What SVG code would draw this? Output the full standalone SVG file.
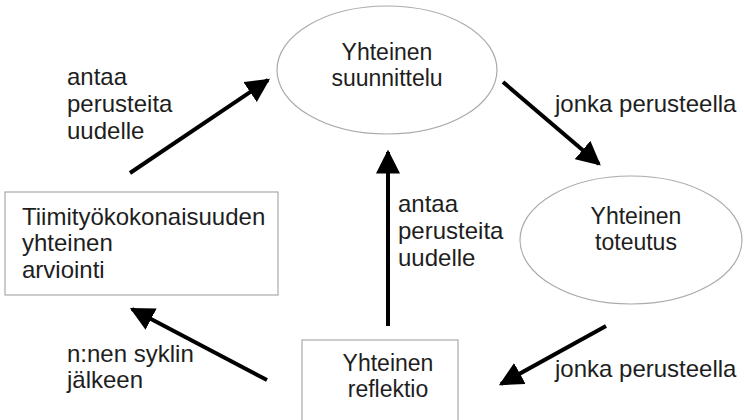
<svg xmlns="http://www.w3.org/2000/svg" width="744" height="420" viewBox="0 0 744 420">
<defs>
<style>
text{font-family:"Liberation Sans",Arial,sans-serif;font-size:24px;fill:#1e1e1e}
.c{text-anchor:middle;font-size:23px}
.node{fill:#fff;stroke:#a8aca8;stroke-width:1.2}
.arr{stroke:#000;stroke-width:4;fill:none;marker-end:url(#ah)}
</style>
<marker id="ah" viewBox="0 0 10 10" refX="9" refY="5" markerWidth="6" markerHeight="6" orient="auto" markerUnits="strokeWidth">
<path d="M0,0 L10,5 L0,10 Z" fill="#000"/>
</marker>
</defs>
<rect width="744" height="420" fill="#fff"/>
<g id="n-suunnittelu">
<ellipse class="node" cx="387" cy="70" rx="110" ry="64"/>
<text class="c" x="387" y="60">Yhteinen</text>
<text class="c" x="387" y="86">suunnittelu</text>
</g>
<g id="n-toteutus">
<ellipse class="node" cx="631" cy="240" rx="111" ry="64"/>
<text class="c" x="636" y="224">Yhteinen</text>
<text class="c" x="636" y="250">toteutus</text>
</g>
<g id="n-arviointi">
<rect class="node" x="5" y="192" width="273" height="103"/>
<text x="22" y="225">Tiimityökokonaisuuden</text>
<text x="22" y="251">yhteinen</text>
<text x="22" y="278">arviointi</text>
</g>
<g id="n-reflektio">
<rect class="node" x="302" y="340" width="156" height="90"/>
<text class="c" x="388" y="371">Yhteinen</text>
<text class="c" x="388" y="397">reflektio</text>
</g>
<g id="connectors">
<line class="arr" x1="130" y1="173" x2="268" y2="80"/>
<line class="arr" x1="503" y1="82" x2="599" y2="164"/>
<line class="arr" x1="388" y1="326" x2="388" y2="152"/>
<line class="arr" x1="606" y1="326" x2="501" y2="384"/>
<line class="arr" x1="267" y1="380" x2="132" y2="309"/>
</g>
<g id="labels">
<text x="67" y="85">antaa</text>
<text x="67" y="112">perusteita</text>
<text x="67" y="139">uudelle</text>
<text x="555" y="112">jonka perusteella</text>
<text x="398" y="212">antaa</text>
<text x="398" y="239">perusteita</text>
<text x="398" y="266">uudelle</text>
<text x="555" y="377">jonka perusteella</text>
<text x="67" y="362">n:nen syklin</text>
<text x="67" y="388">jälkeen</text>
</g>
</svg>
